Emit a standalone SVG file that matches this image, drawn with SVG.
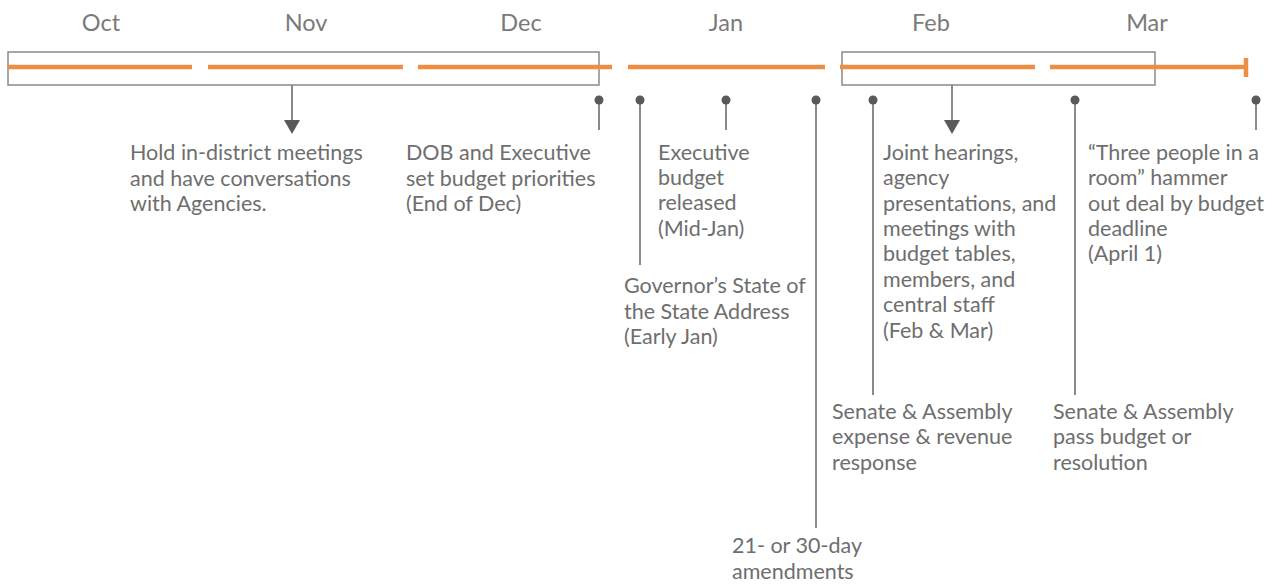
<svg xmlns="http://www.w3.org/2000/svg" width="1272" height="584" viewBox="0 0 1272 584">
<defs>
<style>
.m{font-family:Lato,"Liberation Sans",sans-serif;font-size:23.5px;fill:#7a7a7a;text-anchor:middle}
.t{font-family:Lato,"Liberation Sans",sans-serif;font-size:21.5px;fill:#6e6e6e}
.box{fill:none;stroke:#8a8a8a;stroke-width:1.5}
.o{stroke:#ee8e45;stroke-width:4.5;fill:none}
.p{stroke:#8a8a8a;stroke-width:2;fill:none}
.d{fill:#5a5a5a}
.ah{fill:#5a5a5a}
</style>
</defs>
<rect width="1272" height="584" fill="#ffffff"/>
<g id="months">
<text class="m" x="101" y="31">Oct</text>
<text class="m" x="306" y="31">Nov</text>
<text class="m" x="521" y="31">Dec</text>
<text class="m" x="726" y="31">Jan</text>
<text class="m" x="931" y="31">Feb</text>
<text class="m" x="1147" y="31">Mar</text>
</g>
<g id="timeline">
<rect class="box" x="8" y="52" width="591" height="33"/>
<rect class="box" x="842" y="52" width="313" height="33"/>
<path class="o" d="M8,67H192M208,67H403M418,67H612M628,67H825M840,67H1035M1050,67H1246"/>
<path class="o" d="M1246,58V77"/>
</g>
<g id="connectors">
<path class="p" d="M292,85V122"/>
<polygon class="ah" points="284,120 300,120 292,134"/>
<path class="p" d="M952,85V122"/>
<polygon class="ah" points="944,120 960,120 952,134"/>
<path class="p" d="M599,100V130"/>
<path class="p" d="M640,100V265"/>
<path class="p" d="M726,100V130"/>
<path class="p" d="M816,100V528"/>
<path class="p" d="M873,100V395"/>
<path class="p" d="M1075,100V395"/>
<path class="p" d="M1256,100V130"/>
<circle class="d" cx="599" cy="100" r="4.5"/>
<circle class="d" cx="640" cy="100" r="4.5"/>
<circle class="d" cx="726" cy="100" r="4.5"/>
<circle class="d" cx="816" cy="100" r="4.5"/>
<circle class="d" cx="873" cy="100" r="4.5"/>
<circle class="d" cx="1075" cy="100" r="4.5"/>
<circle class="d" cx="1256" cy="100" r="4.5"/>
</g>
<g id="n-hold"><text class="t" x="130" y="160">Hold in-district meetings</text><text class="t" x="130" y="186">and have conversations</text><text class="t" x="130" y="211">with Agencies.</text></g>
<g id="n-dob"><text class="t" x="406" y="160">DOB and Executive</text><text class="t" x="406" y="186">set budget priorities</text><text class="t" x="406" y="211">(End of Dec)</text></g>
<g id="n-exec"><text class="t" x="658" y="160">Executive</text><text class="t" x="658" y="185">budget</text><text class="t" x="658" y="210">released</text><text class="t" x="658" y="236">(Mid-Jan)</text></g>
<g id="n-gov"><text class="t" x="624" y="293">Governor’s State of</text><text class="t" x="624" y="319">the State Address</text><text class="t" x="624" y="344">(Early Jan)</text></g>
<g id="n-joint"><text class="t" x="883" y="160">Joint hearings,</text><text class="t" x="883" y="185">agency</text><text class="t" x="883" y="211">presentations, and</text><text class="t" x="883" y="236">meetings with</text><text class="t" x="883" y="261">budget tables,</text><text class="t" x="883" y="287">members, and</text><text class="t" x="883" y="312">central staff</text><text class="t" x="883" y="338">(Feb &amp; Mar)</text></g>
<g id="n-three"><text class="t" x="1088" y="160">“Three people in a</text><text class="t" x="1088" y="185">room” hammer</text><text class="t" x="1088" y="211">out deal by budget</text><text class="t" x="1088" y="236">deadline</text><text class="t" x="1088" y="261">(April 1)</text></g>
<g id="n-senate1"><text class="t" x="832" y="419">Senate &amp; Assembly</text><text class="t" x="832" y="444">expense &amp; revenue</text><text class="t" x="832" y="470">response</text></g>
<g id="n-senate2"><text class="t" x="1053" y="419">Senate &amp; Assembly</text><text class="t" x="1053" y="444">pass budget or</text><text class="t" x="1053" y="470">resolution</text></g>
<g id="n-amend"><text class="t" x="732" y="553">21- or 30-day</text><text class="t" x="732" y="579">amendments</text></g>
</svg>
